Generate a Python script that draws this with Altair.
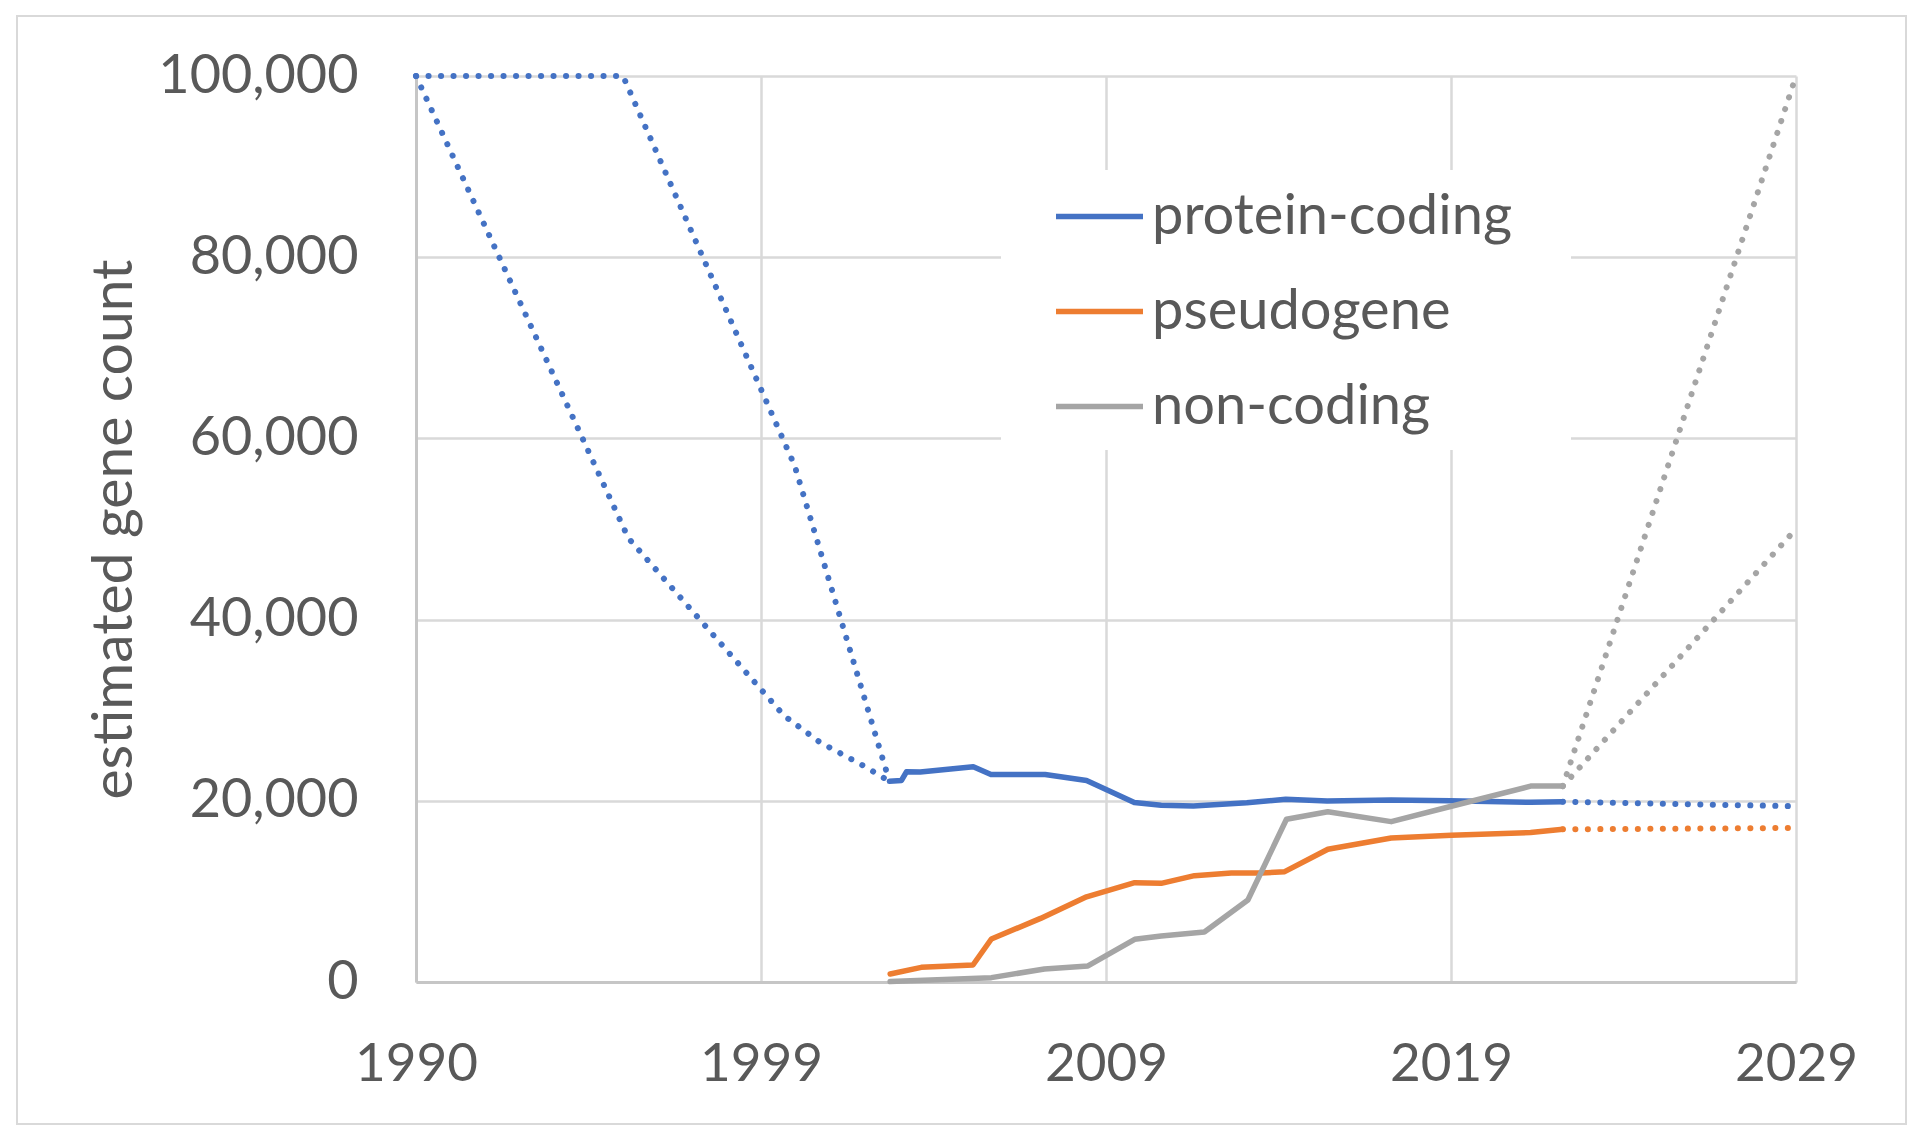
import altair as alt
import pandas as pd

SERIES = ["protein-coding", "pseudogene", "non-coding"]
COLORS = ["#4472C4", "#ED7D31", "#A5A5A5"]

# observed gene counts (solid lines)
pc_years = [2003.38, 2003.72, 2003.86, 2004.25, 2005.75, 2006.25, 2007.78, 2008.95,
            2010.30, 2011.06, 2011.97, 2013.48, 2014.58, 2015.75, 2017.56, 2019.23,
            2021.50, 2022.41]
pc_counts = [22150, 22250, 23200, 23180, 23770, 22900, 22900, 22250,
             19820, 19500, 19430, 19780, 20165, 19975, 20090, 20000,
             19840, 19890]

ps_years = [2003.40, 2004.28, 2005.74, 2006.26, 2007.65, 2008.95, 2010.31, 2011.06,
            2012.00, 2013.04, 2013.89, 2014.55, 2015.77, 2017.56, 2019.26, 2021.50,
            2022.41]
ps_counts = [880, 1620, 1880, 4750, 7020, 9400, 10960, 10890,
             11740, 12030, 12030, 12180, 14645, 15900, 16200, 16500,
             16850]

nc_years = [2003.40, 2006.26, 2007.76, 2008.99, 2010.31, 2011.06, 2012.28, 2013.51,
            2014.60, 2015.77, 2017.56, 2019.26, 2021.50, 2022.41]
nc_counts = [50, 480, 1435, 1770, 4710, 5080, 5520, 9050,
             17960, 18800, 17700, 19400, 21620, 21620]

# early estimates of protein-coding genes (dotted)
est_a_years = [1990.0, 1996.0, 2000.4, 2001.4, 2002.7, 2003.38]
est_a_counts = [100000, 49000, 29400, 26500, 23750, 22150]
est_b_years = [1990.0, 1995.85, 2000.7, 2003.38]
est_b_counts = [100000, 100000, 57000, 22150]

# projections (dotted)
proj_years = [2022.41, 2029.0]
pc_proj = [19890, 19400]
ps_proj = [16850, 17000]
nc_proj_high = [21620, 100000]
nc_proj_low = [21620, 50000]

x_ticks = [1990, 1999.75, 2009.5, 2019.25, 2029]
y_ticks = [0, 20000, 40000, 60000, 80000, 100000]


def frame(series, seg, years, counts):
    return pd.DataFrame({"series": series, "seg": seg, "year": years, "count": counts})


solid_pc = frame("protein-coding", "pc", pc_years, pc_counts)
solid_ps = frame("pseudogene", "ps", ps_years, ps_counts)
solid_nc = frame("non-coding", "nc", nc_years, nc_counts)
dotted_blue = pd.concat([
    frame("protein-coding", "est_a", est_a_years, est_a_counts),
    frame("protein-coding", "est_b", est_b_years, est_b_counts),
    frame("protein-coding", "pc_proj", proj_years, pc_proj),
])
dotted_orange = frame("pseudogene", "ps_proj", proj_years, ps_proj)
dotted_grey = pd.concat([
    frame("non-coding", "nc_hi", proj_years, nc_proj_high),
    frame("non-coding", "nc_lo", proj_years, nc_proj_low),
])

FONT = "Lato"
TEXT = "#595959"

X = alt.X(
    "year:Q",
    scale=alt.Scale(domain=[1990, 2029], nice=False, zero=False),
    axis=alt.Axis(values=x_ticks, labelExpr="floor(datum.value)", title=None,
                  labelFont=FONT, labelFontSize=53, labelColor=TEXT,
                  labelPadding=56, ticks=False, tickSize=0, grid=True,
                  gridColor="#d9d9d9", gridWidth=2.5, domainColor="#c6c6c6",
                  domainWidth=3, labelFlush=False, labelLimit=0),
)
Y = alt.Y(
    "count:Q",
    scale=alt.Scale(domain=[0, 100000], nice=False),
    axis=alt.Axis(values=y_ticks, format=",d", title="estimated gene count",
                  labelFont=FONT, labelFontSize=54, labelColor=TEXT,
                  labelPadding=58, ticks=False, tickSize=0, grid=True,
                  gridColor="#d9d9d9", gridWidth=2.5, domainColor="#c6c6c6",
                  domainWidth=3, labelLimit=0, titleFont=FONT, titleFontSize=57,
                  titleFontWeight="normal", titleColor=TEXT, titleAngle=270,
                  titleAlign="center", titleBaseline="alphabetic",
                  titleX=-285, titleY=453, titleLimit=0),
)

COLOR = alt.Color(
    "series:N",
    scale=alt.Scale(domain=SERIES, range=COLORS),
    sort=SERIES,
    legend=alt.Legend(orient="none", legendX=637, legendY=94, title=None,
                      symbolType="stroke", symbolSize=7569, symbolStrokeWidth=5.5,
                      labelFont=FONT, labelFontSize=56, labelColor=TEXT,
                      labelOffset=6, rowPadding=20, padding=0, labelLimit=2000),
)
COLOR_NOLEG = alt.Color("series:N", scale=alt.Scale(domain=SERIES, range=COLORS), legend=None)

dummy = pd.DataFrame({"k": [0]})

border = alt.Chart(dummy).mark_rect(fillOpacity=0, stroke="#d9d9d9", strokeWidth=2).encode(
    x=alt.value(-399), x2=alt.value(1490), y=alt.value(-60), y2=alt.value(1048)
)
legend_box = alt.Chart(dummy).mark_rect(fill="white").encode(
    x=alt.value(585), x2=alt.value(1155), y=alt.value(94), y2=alt.value(374)
)


def solid(df, color):
    return alt.Chart(df).mark_line(strokeWidth=5.5, strokeJoin="round", strokeCap="round").encode(
        x=X, y=Y, color=color, detail="seg:N"
    )


def dotted(df):
    return alt.Chart(df).mark_line(strokeWidth=6, strokeCap="round", strokeDash=[0.1, 12.4]).encode(
        x=X, y=Y, color=COLOR_NOLEG, detail="seg:N"
    )


chart = alt.layer(
    border,
    legend_box,
    solid(solid_pc, COLOR),
    dotted(dotted_blue),
    solid(solid_ps, COLOR_NOLEG),
    dotted(dotted_orange),
    solid(solid_nc, COLOR_NOLEG),
    dotted(dotted_grey),
).properties(
    width=1380,
    height=906,
    autosize=alt.AutoSizeParams(type="none"),
    padding={"left": 408, "top": 68, "right": 116, "bottom": 146},
    background="white",
).configure_view(stroke=None)

chart.save("out.html", embed_options={"renderer": "svg", "actions": False})
